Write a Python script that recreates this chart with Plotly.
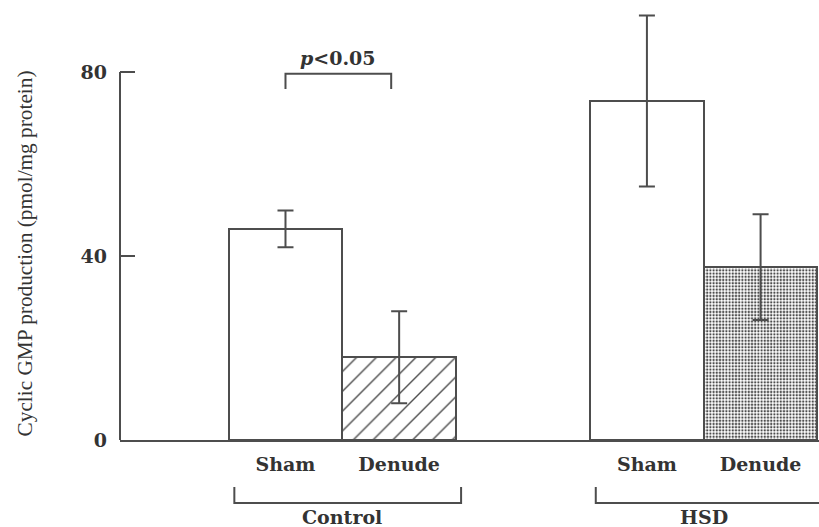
import plotly.graph_objects as go

# ---- data ----
groups = ["Control", "HSD"]
conditions = ["Sham", "Denude"]
tick_labels = ["Sham", "Denude", "Sham", "Denude"]
cgmp_means = [45.9, 18.0, 73.7, 37.6]
cgmp_sem = [4.0, 10.0, 18.6, 11.5]
y_ticks = [0, 40, 80]
y_title = "Cyclic GMP production (pmol/mg protein)"
sig_label = "<i>p</i>&lt;0.05"

# ---- layout helpers (positions, not data) ----
group_centers = [1.956, 5.136]
offsets = [-0.5, 0.5]
xpos = [gc + o for gc in group_centers for o in offsets]
bracket_extent = [(-0.95, 1.045), (-0.95, 1.2)]

INK = "#4d4d4d"
TXT = "#333333"
SERIF_B = "DejaVu Serif"

fig = go.Figure()
fig.add_trace(go.Bar(
    x=xpos,
    y=cgmp_means,
    width=1.0,
    marker=dict(
        color="white",
        line=dict(color=INK, width=2),
        pattern=dict(
            shape=["", "/", "", "."],
            size=[8, 14, 8, 3.2],
            solidity=[0.2, 0.1, 0.2, 0.42],
            fgcolor=INK,
            bgcolor="white",
            fillmode="replace",
        ),
    ),
    error_y=dict(type="data", array=cgmp_sem, visible=True,
                 color=INK, thickness=2, width=8),
    showlegend=False,
))

W, H = 819, 527
ML, MB = 120, 87
plot_h = H - MB

fig.update_layout(
    width=W, height=H,
    margin=dict(l=ML, r=0, t=0, b=MB),
    paper_bgcolor="white", plot_bgcolor="white",
    bargap=0,
    xaxis=dict(range=[0, 6.15], showgrid=False, zeroline=False,
               showline=True, linecolor=INK, linewidth=2,
               tickvals=xpos, ticktext=tick_labels, ticks="",
               ticklabelstandoff=6,
               tickfont=dict(family=SERIF_B, size=19, color=TXT, weight="bold")),
    yaxis=dict(range=[0, plot_h / 4.6], showgrid=False, zeroline=False,
               showline=False, tickvals=y_ticks, ticks="inside",
               ticklen=15, tickwidth=2, tickcolor=INK,
               ticklabelstandoff=12,
               tickfont=dict(family=SERIF_B, size=19, color=TXT, weight="bold")),
)

# y axis line (0..80 only)
fig.add_shape(type="line", xref="paper", yref="y", x0=0, x1=0, y0=0, y1=y_ticks[-1],
              line=dict(color=INK, width=2))

# y axis title
fig.add_annotation(xref="paper", yref="paper", x=(25 - ML) / (W - ML), y=0.424,
                   text=y_title, textangle=-90, showarrow=False,
                   xanchor="center", yanchor="middle",
                   font=dict(family="Liberation Serif", size=21.3, color=TXT))

# group brackets + labels
br_top = -(487 - plot_h) / plot_h
br_bot = -(503 - plot_h) / plot_h
for gc, g, (e0, e1) in zip(group_centers, groups, bracket_extent):
    x0, x1 = gc + e0, gc + e1
    fig.add_shape(type="path", xref="x", yref="paper",
                  path=f"M {x0} {br_top} L {x0} {br_bot} L {x1} {br_bot} L {x1} {br_top}",
                  line=dict(color=INK, width=2))
    fig.add_annotation(xref="x", yref="paper", x=gc, y=-(517 - plot_h) / plot_h,
                       text=g, showarrow=False, xanchor="center", yanchor="middle",
                       font=dict(family=SERIF_B, size=19, color=TXT, weight="bold"))

# significance bracket between Control Sham and Control Denude
sx0, sx1 = xpos[0], xpos[1] - 0.07
fig.add_shape(type="path", xref="x", yref="y",
              path=f"M {sx0} 76.3 L {sx0} 79.6 L {sx1} 79.6 L {sx1} 76.3",
              line=dict(color=INK, width=2))
fig.add_annotation(xref="x", yref="y", x=(sx0 + sx1) / 2, y=83.0, text=sig_label,
                   showarrow=False, xanchor="center", yanchor="middle",
                   font=dict(family=SERIF_B, size=19, color=TXT, weight="bold"))

fig.write_html("out.html",
               config={"displayModeBar": False},
               post_script="document.body.style.margin='0';document.body.style.padding='0';")
